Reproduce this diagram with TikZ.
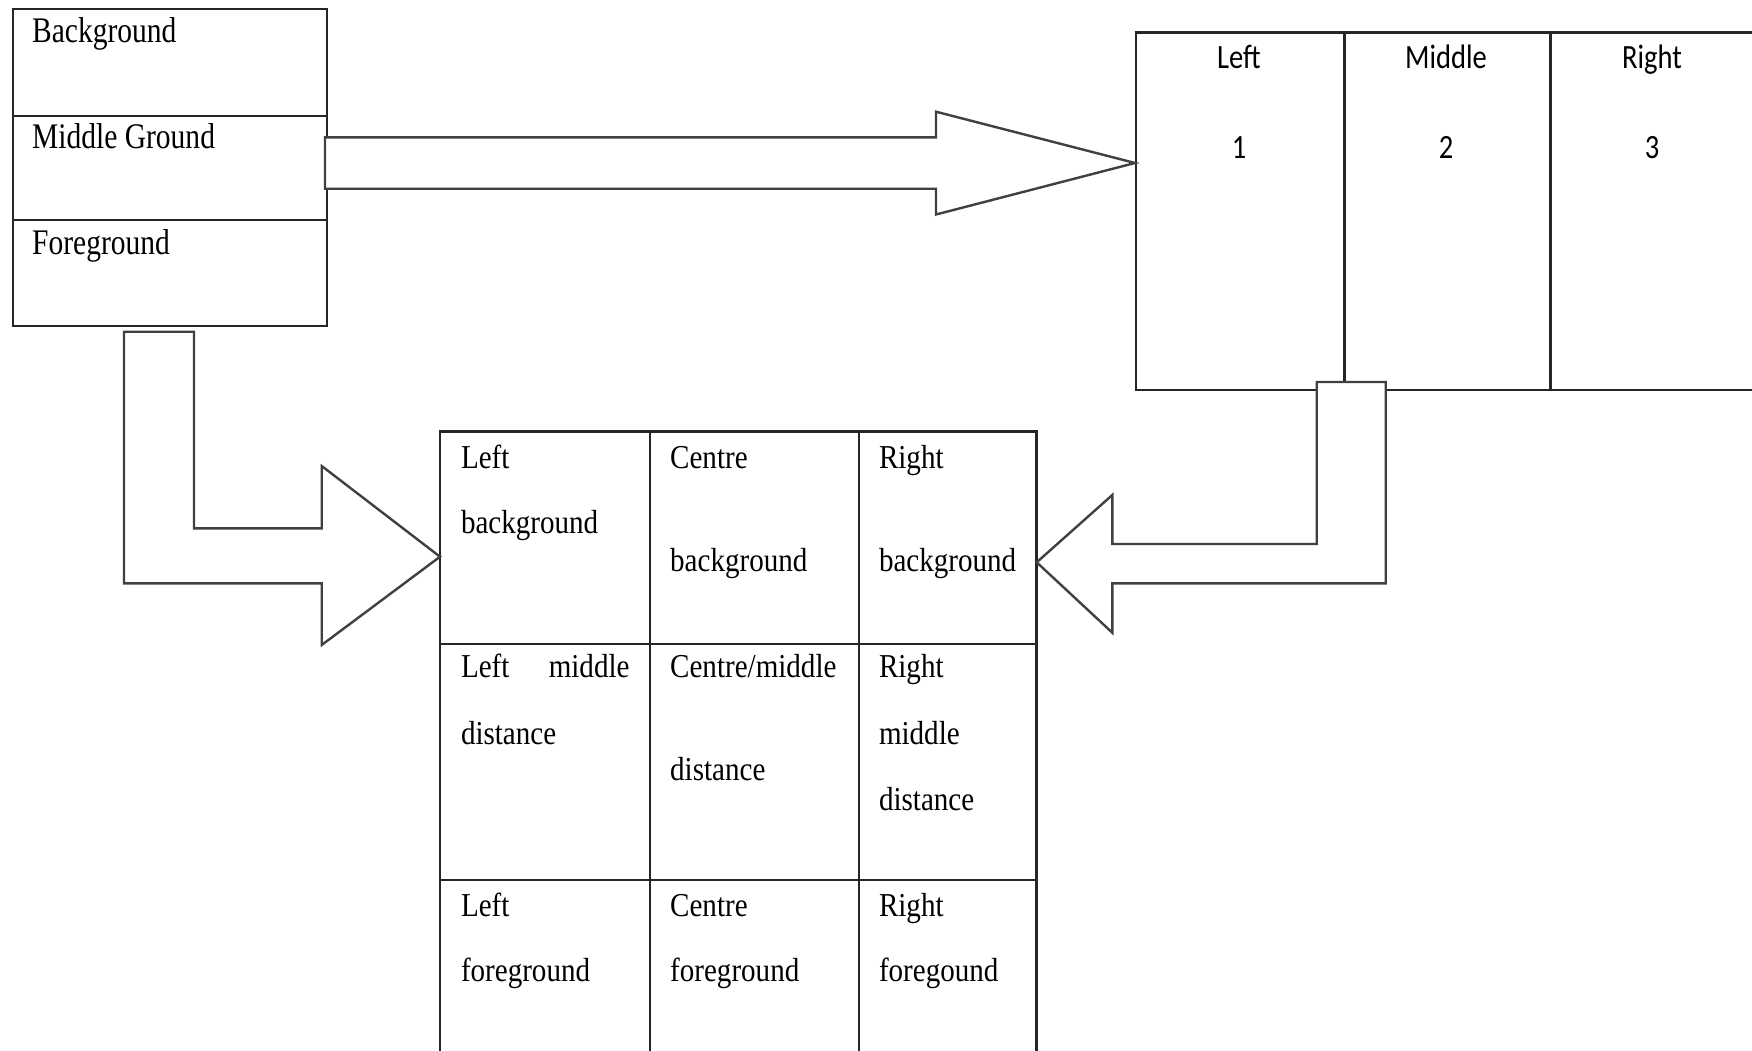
\documentclass[tikz,border=0pt]{standalone}
\usepackage{fontspec}
\newfontfamily\serifA[FakeStretch=0.82]{Liberation Serif}
\newfontfamily\serifB[FakeStretch=0.87]{Liberation Serif}
\newfontfamily\sansA[FakeStretch=0.84]{Carlito}
\begin{document}
\begin{tikzpicture}[x=1pt,y=-1pt,
  boxline/.style={draw=black!85, line width=2.2pt},
  blockarrow/.style={draw=black!75, line width=2.4pt, fill=white, line join=miter},
  lbtext/.style={font=\serifA\fontsize{36}{36}\selectfont, anchor=base west, inner sep=0pt},
  gtext/.style={font=\serifB\fontsize{33.4}{33.4}\selectfont, anchor=base west, inner sep=0pt},
  rtext/.style={font=\sansA\fontsize{34}{34}\selectfont, anchor=base, inner sep=0pt}]
\useasboundingbox (0,0) rectangle (1752,1051);
\clip (0,0) rectangle (1752,1051);
% ---- left box: layers
\node[boxline, minimum width=314pt, minimum height=107pt, inner sep=0, anchor=north west] (bg) at (12,8) {};
\node[boxline, minimum width=314pt, minimum height=104pt, inner sep=0, anchor=north west] (mg) at (12,115) {};
\node[boxline, minimum width=314pt, minimum height=106pt, inner sep=0, anchor=north west] (fg) at (12,219) {};
\node[lbtext] (tbg) at (32,43) {Background};
\node[lbtext] (tmg) at (32,148.3) {Middle Ground};
\node[lbtext] (tfg) at (32,254) {Foreground};
% ---- right box: left / middle / right
\node[boxline, minimum width=208.3pt, minimum height=357pt, inner sep=0, anchor=north west] (cl) at (1135,31.5) {};
\node[boxline, minimum width=206pt, minimum height=357pt, inner sep=0, anchor=north west] (cm) at (1343.3,31.5) {};
\node[boxline, minimum width=212pt, minimum height=357pt, inner sep=0, anchor=north west] (cr) at (1549.3,31.5) {};
\node[rtext] (tl) at (1239,68.3) {Left};
\node[rtext] (tm) at (1446,68.3) {Middle};
\node[rtext] (tr) at (1652,68.3) {Right};
\node[rtext] (n1) at (1239,158.3) {1};
\node[rtext] (n2) at (1446,158.3) {2};
\node[rtext] (n3) at (1652,158.3) {3};
% ---- grid
\draw[boxline] (440,1070) -- (440,431.5) -- (1036.5,431.5) -- (1036.5,1070);
\draw[boxline] (650,431.5) -- (650,1070);
\draw[boxline] (859,431.5) -- (859,1070);
\draw[boxline] (440,644) -- (1036.5,644);
\draw[boxline] (440,880) -- (1036.5,880);
\coordinate (grid) at (440,431.5);
% row 1
\node[gtext] (g11a) at (460.8,468.3) {Left};
\node[gtext] (g11b) at (460.8,533.5) {background};
\node[gtext] (g12a) at (670,468.3) {Centre};
\node[gtext] (g12b) at (670,571) {background};
\node[gtext] (g13a) at (878.8,468.3) {Right};
\node[gtext] (g13b) at (878.8,571) {background};
% row 2
\node[gtext] (g21a) at (460.8,677.5) {Left};
\node[gtext, anchor=base east] (g21c) at (629.7,677.5) {middle};
\node[gtext] (g21b) at (460.8,744) {distance};
\node[gtext] (g22a) at (670,677.5) {Centre/middle};
\node[gtext] (g22b) at (670,780) {distance};
\node[gtext] (g23a) at (878.8,677.5) {Right};
\node[gtext] (g23b) at (878.8,744) {middle};
\node[gtext] (g23c) at (878.8,810.3) {distance};
% row 3
\node[gtext] (g31a) at (460.8,916) {Left};
\node[gtext] (g31b) at (460.8,981.4) {foreground};
\node[gtext] (g32a) at (670,916) {Centre};
\node[gtext] (g32b) at (670,981.4) {foreground};
\node[gtext] (g33a) at (878.8,916) {Right};
\node[gtext] (g33b) at (878.8,981.4) {foregound};
% ---- block arrows
\draw[blockarrow] (325,137.4) -- (936,137.4) -- (936,111.7) -- (1135,163) -- (936,214.5) -- (936,188.8) -- (325,188.8) -- cycle;
\draw[blockarrow] (124,331.7) -- (194,331.7) -- (194,528.3) -- (321.7,528.3) -- (321.7,466) -- (440,556.7) -- (321.7,645) -- (321.7,583.3) -- (124,583.3) -- cycle;
\draw[blockarrow] (1316.7,382) -- (1385.7,382) -- (1385.7,583.3) -- (1112.3,583.3) -- (1112.3,632.7) -- (1036.7,562.3) -- (1112.3,495) -- (1112.3,544) -- (1316.7,544) -- cycle;
\end{tikzpicture}
\end{document}
